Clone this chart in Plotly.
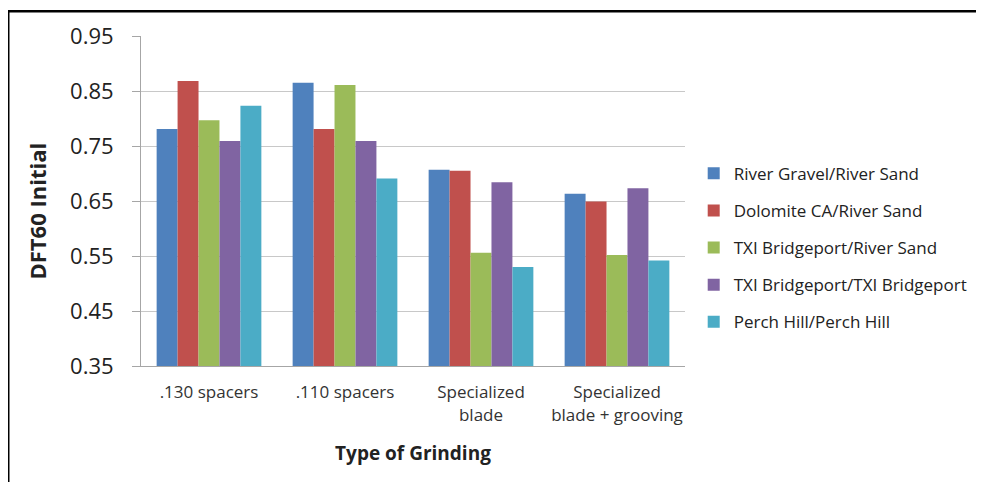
import plotly.graph_objects as go

categories = [".130 spacers", ".110 spacers", "Specialized<br>blade", "Specialized<br>blade + grooving"]
series_names = [
    "River Gravel/River Sand",
    "Dolomite CA/River Sand",
    "TXI Bridgeport/River Sand",
    "TXI Bridgeport/TXI Bridgeport",
    "Perch Hill/Perch Hill",
]
river_gravel = [0.781, 0.865, 0.707, 0.663]
dolomite = [0.868, 0.781, 0.705, 0.649]
txi_river = [0.797, 0.861, 0.556, 0.552]
txi_txi = [0.759, 0.759, 0.684, 0.673]
perch_hill = [0.823, 0.691, 0.530, 0.542]
colors = ["#4F81BD", "#C0504D", "#9BBB59", "#8064A2", "#4BACC6"]

values = [river_gravel, dolomite, txi_river, txi_txi, perch_hill]

fig = go.Figure()
for i, (name, vals) in enumerate(zip(series_names, values)):
    fig.add_trace(go.Bar(
        x=categories, y=vals, name=name, marker_color=colors[i],
        marker_line_width=0, legendgroup=f"g{i}",
    ))

FONT = "Open Sans"
W, H = 976, 474
L, T, R, B = 133, 23, 298, 116
PW, PH = W - L - R, H - T - B

def px(xp):
    return (xp - 8 - L) / PW

def py(yp):
    return (H - B - (yp - 8)) / PH

fig.update_layout(
    width=W, height=H,
    margin=dict(l=L, r=R, t=T, b=B),
    paper_bgcolor="white", plot_bgcolor="white",
    barmode="group", bargap=0.23, bargroupgap=0,
    font=dict(family=FONT, color="#222222"),
    showlegend=True,
    legend=dict(
        x=1.016, xanchor="left", y=0.637, yanchor="top",
        font=dict(family=FONT, size=17, color="#222222"),
        tracegroupgap=12, itemwidth=30,
        bgcolor="rgba(0,0,0,0)",
    ),
    xaxis=dict(
        showline=True, linecolor="#A6A6A6", linewidth=1,
        tickfont=dict(family=FONT, size=17, color="#333333"),
        ticklabelstandoff=11,
        title=dict(text="<b>Type of Grinding</b>", font=dict(family=FONT, size=19, color="#222222"), standoff=22),
        ticks="",
    ),
    yaxis=dict(
        range=[0.35, 0.95], dtick=0.1, tick0=0.35, tickformat=".2f",
        showline=True, linecolor="#A6A6A6", linewidth=1,
        showgrid=True, gridcolor="#C8C8C8", gridwidth=1,
        ticks="outside", ticklen=8, tickcolor="#A6A6A6",
        tickfont=dict(family=FONT, size=22, color="#222222"),
        ticklabelstandoff=14,
        zeroline=False,
    ),
    annotations=[
        dict(text="<b>DFT60 Initial</b>", textangle=-90, xref="paper", yref="paper",
             x=px(37), y=py(209), xanchor="center", yanchor="middle", showarrow=False,
             font=dict(family=FONT, size=22, color="#222222")),
    ],
    shapes=[
        dict(type="line", xref="paper", yref="paper", x0=px(7), x1=px(990),
             y0=py(6), y1=py(6), line=dict(color="black", width=2.5)),
        dict(type="line", xref="paper", yref="paper", x0=px(8), x1=px(8),
             y0=py(6), y1=py(490), line=dict(color="black", width=2.5)),
    ],
)

fig.write_html("out.html")
